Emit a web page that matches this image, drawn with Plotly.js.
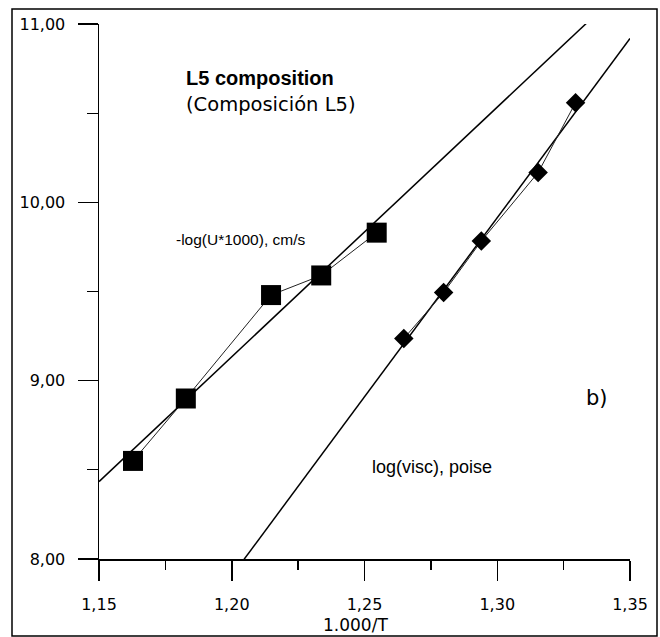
<!DOCTYPE html>
<html>
<head>
<meta charset="utf-8">
<script src="https://cdn.plot.ly/plotly-3.0.1.min.js"></script>
<style>html,body{margin:0;padding:0;background:#fff;}#chart{width:660px;height:637px;}</style>
</head>
<body>
<div id="chart"></div>
<script>
// Data
const uX = [1.1628, 1.1827, 1.2148, 1.2337, 1.2546];
const uY = [8.55, 8.90, 9.48, 9.59, 9.83];
const viscX = [1.2648, 1.2798, 1.2940, 1.3154, 1.3295];
const viscY = [9.236, 9.494, 9.783, 10.167, 10.559];
const xRange = [1.15, 1.35];
const yRange = [8, 11];
const yTicks = [8, 9, 10, 11];
const xTicks = [1.15, 1.20, 1.25, 1.30, 1.35];

function fit(xs, ys) {
  const n = xs.length;
  const mx = xs.reduce((a, b) => a + b, 0) / n;
  const my = ys.reduce((a, b) => a + b, 0) / n;
  let sxy = 0, sxx = 0;
  for (let i = 0; i < n; i++) { sxy += (xs[i] - mx) * (ys[i] - my); sxx += (xs[i] - mx) ** 2; }
  const m = sxy / sxx;
  const b = my - m * mx;
  return { x: xRange.slice(), y: xRange.map(v => m * v + b) };
}
const uFit = fit(uX, uY);
const vFit = fit(viscX, viscY);

const traces = [
  { x: uFit.x, y: uFit.y, mode: 'lines', line: { color: '#000', width: 1.5 }, hoverinfo: 'skip' },
  { x: vFit.x, y: vFit.y, mode: 'lines', line: { color: '#000', width: 1.5 }, hoverinfo: 'skip' },
  { x: uX, y: uY, mode: 'lines+markers', line: { color: '#222', width: 1 },
    marker: { symbol: 'square', size: 20, color: '#000' } },
  { x: viscX, y: viscY, mode: 'lines+markers', line: { color: '#222', width: 1 },
    marker: { symbol: 'diamond', size: 15, color: '#000' } }
];

const FONT = 'DejaVu Sans, sans-serif';
const ARIAL = 'Liberation Sans, Arial, sans-serif';

const layout = {
  width: 660, height: 637,
  margin: { l: 99, r: 30, t: 24, b: 78 },
  paper_bgcolor: '#fff', plot_bgcolor: '#fff',
  showlegend: false,
  separators: ', ',
  xaxis: {
    range: xRange, tickvals: xTicks, tickformat: '.2f',
    showgrid: false, zeroline: false, showline: true, linecolor: '#000', linewidth: 1.5,
    ticks: 'outside', ticklen: 20, tickwidth: 1.5, tickcolor: '#000',
    ticklabelstandoff: 10,
    minor: { dtick: 0.025, tick0: 1.15, ticks: 'outside', ticklen: 9, tickwidth: 1.3, tickcolor: '#000', showgrid: false },
    tickfont: { family: FONT, size: 16, color: '#000' }
  },
  yaxis: {
    range: yRange, tickvals: yTicks, tickformat: '.2f',
    showgrid: false, zeroline: false, showline: true, linecolor: '#000', linewidth: 1.5,
    ticks: 'outside', ticklen: 20, tickwidth: 1.5, tickcolor: '#000',
    ticklabelstandoff: 9,
    minor: { dtick: 0.5, tick0: 8, ticks: 'outside', ticklen: 11, tickwidth: 1.3, tickcolor: '#000', showgrid: false },
    tickfont: { family: FONT, size: 16, color: '#000' }
  },
  shapes: [
    { type: 'rect', xref: 'paper', yref: 'paper',
      x0: (12 - 99) / 531, x1: (657 - 99) / 531, y0: (559 - 636) / 535, y1: (559 - 9) / 535,
      line: { color: '#000', width: 1.5 } }
  ],
  annotations: [
    { x: 1.1820, y: 10.697, xanchor: 'left', yanchor: 'middle', showarrow: false,
      text: '<b>L5 composition</b>', font: { family: ARIAL, size: 20, color: '#000' } },
    { x: 1.1820, y: 10.546, xanchor: 'left', yanchor: 'middle', showarrow: false,
      text: '(Composición L5)', font: { family: FONT, size: 19.5, color: '#000' } },
    { x: 1.1783, y: 9.789, xanchor: 'left', yanchor: 'middle', showarrow: false,
      text: '-log(U*1000), cm/s', font: { family: ARIAL, size: 15.5, color: '#000' } },
    { x: 1.2521, y: 8.516, xanchor: 'left', yanchor: 'middle', showarrow: false,
      text: 'log(visc), poise', font: { family: ARIAL, size: 18, color: '#000' } },
    { x: 1.3376, y: 8.903, xanchor: 'center', yanchor: 'middle', showarrow: false,
      text: 'b)', font: { family: FONT, size: 21, color: '#000' } },
    { xref: 'paper', yref: 'paper', x: (355 - 99) / 531, y: (559 - 625) / 535,
      xanchor: 'center', yanchor: 'middle', showarrow: false,
      text: '1.000/T', font: { family: FONT, size: 17, color: '#000' } }
  ]
};

Plotly.newPlot('chart', traces, layout, { staticPlot: true, displayModeBar: false });
</script>
</body>
</html>
